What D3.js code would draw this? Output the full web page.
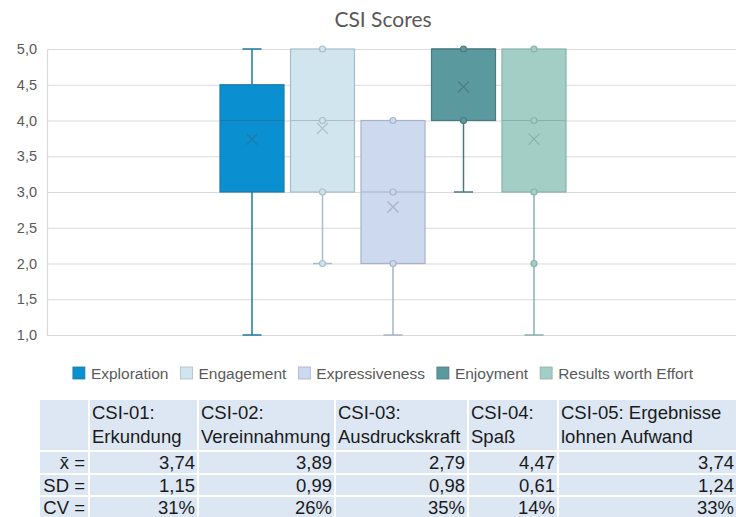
<!DOCTYPE html>
<html>
<head>
<meta charset="utf-8">
<script src="https://cdn.jsdelivr.net/npm/d3@7"></script>
<style>
  html, body { margin: 0; padding: 0; background: #fff; }
  svg { display: block; }
</style>
</head>
<body>
<svg id="chart" width="736" height="517"></svg>
<script>
// ---- data ----
const series = ["Exploration", "Engagement", "Expressiveness", "Enjoyment", "Results worth Effort"];
const mins    = [1, 2, 1, 3, 1];
const q1s     = [3, 3, 2, 4, 3];
const medians = [4, 4, 3, 5, 4];
const q3s     = [4.5, 5, 4, 5, 5];
const maxs    = [5, 5, 4, 5, 5];
const means   = [3.74, 3.89, 2.79, 4.47, 3.74];
const innerPoints = [[], [5, 4, 3, 2], [4, 3, 2], [5, 4], [5, 4, 3, 2]];
const yTicks  = [1.0, 1.5, 2.0, 2.5, 3.0, 3.5, 4.0, 4.5, 5.0];

const fills   = ["#0a90d0", "#d1e5ef", "#cdd9ef", "#5a9a9f", "#a3cec6"];
const strokes = ["#1f7aa3", "#a9bdc9", "#a7b2c8", "#487b7f", "#88b1ab"];

// statistics table
const tableHeaders = [["CSI-01:", "Erkundung"], ["CSI-02:", "Vereinnahmung"], ["CSI-03:", "Ausdruckskraft"], ["CSI-04:", "Spaß"], ["CSI-05: Ergebnisse", "lohnen Aufwand"]];
const rowLabels = ["x̄ =", "SD =", "CV ="];
const sds = [1.15, 0.99, 0.98, 0.61, 1.24];
const cvs = [31, 26, 35, 14, 33];

const de = d3.formatLocale({decimal: ",", thousands: ".", grouping: [3], currency: ["", " €"]});
const f1 = de.format(".1f"), f2 = de.format(".2f");

const svg = d3.select("#chart");
const textColor = "#595959";

// ---- title ----
svg.append("text")
  .attr("x", 383).attr("y", 27)
  .attr("text-anchor", "middle")
  .attr("font-family", "Lato, 'Open Sans', sans-serif")
  .attr("font-size", 21)
  .attr("fill", textColor)
  .text("CSI Scores");

// ---- scales ----
const plotLeft = 47, plotRight = 739, plotTop = 49, plotBottom = 335;
const y = d3.scaleLinear().domain([1, 5]).range([plotBottom, plotTop]);
const xCat = d3.scaleBand().domain(["CSI"]).range([plotLeft, plotRight]);
const groupW = 352.5, groupC = xCat("CSI") + xCat.bandwidth() / 2;
const x = d3.scaleBand().domain(series)
  .range([groupC - groupW / 2, groupC + groupW / 2])
  .paddingInner(0.092).paddingOuter(0.046);

// ---- gridlines & axis ----
const grid = svg.append("g").attr("transform", `translate(${plotLeft},0)`)
  .call(d3.axisLeft(y).tickValues(yTicks).tickSize(-(736 - plotLeft)).tickFormat(""));
grid.select(".domain").remove();
grid.selectAll(".tick line").attr("stroke", "#dadada").attr("stroke-width", 1.2);

const axis = svg.append("g").attr("transform", `translate(${plotLeft},0)`)
  .call(d3.axisLeft(y).tickValues(yTicks).tickSize(0).tickPadding(10).tickFormat(f1));
axis.select(".domain").attr("stroke", "#dadada").attr("stroke-width", 1.2);
axis.selectAll(".tick text")
  .attr("font-family", "'Liberation Sans', Arial, sans-serif")
  .attr("font-size", 14.5)
  .attr("fill", textColor);

// ---- boxes ----
const capW = 19;
const boxes = svg.append("g").selectAll("g").data(series).join("g");
boxes.each(function(s, i) {
  const g = d3.select(this);
  const x0 = x(s), bw = x.bandwidth(), cx = x0 + bw / 2;
  const col = strokes[i];
  // lower whisker
  if (mins[i] < q1s[i]) {
    g.append("line").attr("x1", cx).attr("x2", cx).attr("y1", y(q1s[i])).attr("y2", y(mins[i]))
      .attr("stroke", col).attr("stroke-width", 1.5);
    g.append("line").attr("x1", cx - capW / 2).attr("x2", cx + capW / 2).attr("y1", y(mins[i])).attr("y2", y(mins[i]))
      .attr("stroke", col).attr("stroke-width", 1.5);
  }
  // upper whisker
  if (maxs[i] > q3s[i]) {
    g.append("line").attr("x1", cx).attr("x2", cx).attr("y1", y(q3s[i])).attr("y2", y(maxs[i]))
      .attr("stroke", col).attr("stroke-width", 1.5);
    g.append("line").attr("x1", cx - capW / 2).attr("x2", cx + capW / 2).attr("y1", y(maxs[i])).attr("y2", y(maxs[i]))
      .attr("stroke", col).attr("stroke-width", 1.5);
  }
  // box
  g.append("rect").attr("x", x0).attr("width", bw)
    .attr("y", y(q3s[i])).attr("height", y(q1s[i]) - y(q3s[i]))
    .attr("fill", fills[i]).attr("stroke", col).attr("stroke-width", 1.2);
  // median
  g.append("line").attr("x1", x0).attr("x2", x0 + bw).attr("y1", y(medians[i])).attr("y2", y(medians[i]))
    .attr("stroke", col).attr("stroke-width", 1.2);
  // inner points
  g.selectAll("circle").data(innerPoints[i]).join("circle")
    .attr("cx", cx).attr("cy", d => y(d)).attr("r", 3)
    .attr("fill", fills[i]).attr("stroke", col).attr("stroke-width", 1.2);
  // mean marker
  const my = y(means[i]), m = 5.5;
  g.append("path")
    .attr("d", `M${cx - m},${my - m}L${cx + m},${my + m}M${cx - m},${my + m}L${cx + m},${my - m}`)
    .attr("stroke", col).attr("stroke-width", 1.2).attr("fill", "none");
});

// ---- legend ----
const legend = svg.append("g");
let lx = 0;
series.forEach((s, i) => {
  const it = legend.append("g").attr("transform", `translate(${lx},0)`);
  it.append("rect").attr("x", 0).attr("y", 367).attr("width", 12).attr("height", 12)
    .attr("fill", fills[i]).attr("stroke", strokes[i]).attr("stroke-width", 0.8);
  const t = it.append("text").attr("x", 18).attr("y", 379)
    .attr("font-family", "'Liberation Sans', Arial, sans-serif")
    .attr("font-size", 15.5).attr("fill", textColor).text(s);
  lx += 18 + t.node().getComputedTextLength() + 12;
});
const legendW = lx - 12;
legend.attr("transform", `translate(${383 - legendW / 2},0)`);

// ---- statistics table ----
const colX = [40, 90, 199, 336, 469, 559, 745];
const rowY = [400, 452, 475, 497, 520];
const tbl = svg.append("g");
const cellFill = "#dce7f3";
for (let r = 0; r < 4; r++) {
  for (let c = 0; c < 6; c++) {
    tbl.append("rect")
      .attr("x", colX[c]).attr("y", rowY[r])
      .attr("width", colX[c + 1] - colX[c] - 2).attr("height", rowY[r + 1] - rowY[r] - 2)
      .attr("fill", cellFill);
  }
}
const tf = "'Liberation Sans', Arial, sans-serif", ts = 18.5, tc = "#1a1a1a";
tableHeaders.forEach((h, c) => {
  h.forEach((line, k) => {
    tbl.append("text").attr("x", colX[c + 1] + 2).attr("y", rowY[0] + 19 + k * 24)
      .attr("font-family", tf).attr("font-size", ts).attr("fill", tc).text(line);
  });
});
const rowsData = [means.map(v => f2(v)), sds.map(v => f2(v)), cvs.map(v => v + "%")];
rowLabels.forEach((lab, r) => {
  const base = rowY[r + 1] + 17;
  tbl.append("text").attr("x", colX[1] - 5).attr("y", base).attr("text-anchor", "end")
    .attr("font-family", tf).attr("font-size", ts).attr("fill", tc).text(lab);
  rowsData[r].forEach((v, c) => {
    const right = c === 4 ? 734 : colX[c + 2] - 4;
    tbl.append("text").attr("x", right).attr("y", base).attr("text-anchor", "end")
      .attr("font-family", tf).attr("font-size", ts).attr("fill", tc).text(v);
  });
});
</script>
</body>
</html>
